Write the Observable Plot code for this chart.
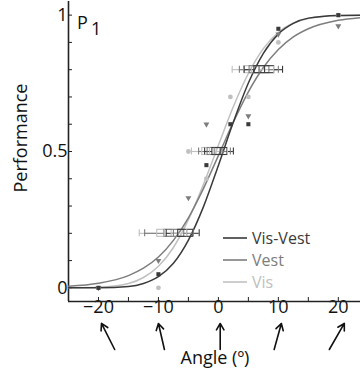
<!DOCTYPE html>
<html><head><meta charset="utf-8">
<script src="https://cdn.jsdelivr.net/npm/d3@7"></script>
<script src="https://cdn.jsdelivr.net/npm/@observablehq/plot@0.6"></script>
<style>body{margin:0;background:#fff} svg{display:block}</style>
</head><body><div id="chart"></div>
<script>
// Series
const series = ["Vis-Vest", "Vest", "Vis"];
const seriesColors = ["#3a3a3a", "#7d7d7d", "#c0c0c0"];

// Fitted curves
const curveAngles   = [-25, -20, -15, -12.5, -10, -7.5, -5, -2.5, 0, 2.5, 5, 7.5, 10, 12.5, 15, 20, 23.7];
const curveVisVest  = [0.000, 0.0004, 0.005, 0.016, 0.041, 0.090, 0.175, 0.297, 0.449, 0.608, 0.751, 0.860, 0.931, 0.970, 0.989, 0.999, 1.000];
const curveVest     = [0.006, 0.017, 0.045, 0.072, 0.113, 0.174, 0.257, 0.364, 0.485, 0.608, 0.719, 0.808, 0.874, 0.920, 0.950, 0.981, 0.991];
const curveVis      = [0.000, 0.002, 0.016, 0.038, 0.079, 0.148, 0.250, 0.379, 0.523, 0.665, 0.786, 0.877, 0.937, 0.971, 0.988, 0.999, 1.000];

// Observed points
const visVestAngles = [-20, -10, -2, 2, 5, 10, 20];
const visVestPerf   = [0.0, 0.05, 0.45, 0.60, 0.60, 0.95, 1.0];
const vestAngles    = [-20, -10, -5, -2, 5, 10, 20];
const vestPerf      = [0.0, 0.10, 0.33, 0.60, 0.63, 0.93, 0.96];
const visAngles     = [-20, -10, -5, -2, 2, 5, 10, 20];
const visPerf       = [0.0, 0.0, 0.50, 0.40, 0.70, 0.70, 0.90, 1.0];

// Threshold boxplots at three performance levels
const boxLevels   = [0.2, 0.5, 0.8];
const visLo  = [-13.2, -4.5, 2.3],  visQ1  = [-10.2, -2.7, 4.3], visMed  = [-9.0, -1.5, 5.5], visQ3  = [-7.8, -0.3, 6.8], visHi  = [-5.3, 1.5, 9.2];
const vestLo = [-12.3, -3.3, 3.5],  vestQ1 = [-9.0, -1.8, 5.2],  vestMed = [-7.5, -0.7, 6.8], vestQ3 = [-5.7, 0.7, 8.5], vestHi = [-4.2, 2.0, 10.0];
const vvLo   = [-8.7, -2.3, 4.3],   vvQ1   = [-6.7, -1.0, 6.0],  vvMed   = [-5.3, 0.3, 7.7],  vvQ3   = [-4.2, 1.5, 9.3],  vvHi   = [-3.2, 2.5, 10.7];

// Axis ticks
const xTicks = [-25, -20, -15, -10, -5, 0, 5, 10, 15, 20];
const xLabels = [-20, -10, 0, 10, 20];
const yTicks = [0, 0.1, 0.2, 0.3, 0.4, 0.5, 0.6, 0.7, 0.8, 0.9, 1];
const yLabels = [0, 0.5, 1];

// Arrows under the angle labels (tip / tail in angle units)
const arrowTipX  = [-19.5, -10, 0.3, 10.5, 21];
const arrowTailX = [-17.3, -9, 0.3, 9.3, 18.5];

const curves = [
  ...curveAngles.map((a, i) => ({series: "Vis", angle: a, perf: curveVis[i]})),
  ...curveAngles.map((a, i) => ({series: "Vest", angle: a, perf: curveVest[i]})),
  ...curveAngles.map((a, i) => ({series: "Vis-Vest", angle: a, perf: curveVisVest[i]}))
];
const boxes = [
  ...boxLevels.map((l, i) => ({series: "Vis", level: l, lo: visLo[i], q1: visQ1[i], med: visMed[i], q3: visQ3[i], hi: visHi[i]})),
  ...boxLevels.map((l, i) => ({series: "Vest", level: l, lo: vestLo[i], q1: vestQ1[i], med: vestMed[i], q3: vestQ3[i], hi: vestHi[i]})),
  ...boxLevels.map((l, i) => ({series: "Vis-Vest", level: l, lo: vvLo[i], q1: vvQ1[i], med: vvMed[i], q3: vvQ3[i], hi: vvHi[i]}))
];
const colorOf = s => seriesColors[series.indexOf(s)];
const visPts = visAngles.map((a, i) => ({angle: a, perf: visPerf[i]}));
const vestPts = vestAngles.map((a, i) => ({angle: a, perf: vestPerf[i]}));
const vvPts = visVestAngles.map((a, i) => ({angle: a, perf: visVestPerf[i]}));
const arrows = arrowTipX.map((t, i) => ({x1: arrowTailX[i], x2: t}));

const font = "'Open Sans', sans-serif";
const chart = Plot.plot({
  width: 360, height: 373,
  marginLeft: 68, marginRight: 0, marginTop: 1, marginBottom: 72,
  style: {fontFamily: font, background: "#fff", overflow: "visible"},
  x: {domain: [-25, 23.7]},
  y: {domain: [-0.05, 1.05]},
  marks: [
    Plot.axisX({ticks: xTicks, tickSize: -4, tickPadding: 3, fontSize: 18, stroke: "#222", color: "#111",
      tickFormat: d => xLabels.includes(d) ? (d < 0 ? "\u2212" + Math.abs(d) : String(d)) : ""}),
    Plot.axisY({ticks: yTicks, tickSize: -4, tickPadding: 5, fontSize: 18, stroke: "#222", color: "#111", label: null,
      tickFormat: d => yLabels.some(v => Math.abs(v - d) < 1e-9) ? String(d) : ""}),
    Plot.ruleX([-25], {stroke: "#222", strokeWidth: 1.6}),
    Plot.ruleY([-0.05], {stroke: "#222", strokeWidth: 1.6}),
    Plot.line(curves, {x: "angle", y: "perf", z: "series", stroke: d => colorOf(d.series), strokeWidth: 1.5, curve: "monotone-x"}),
    // boxplots
    Plot.ruleY(boxes, {x1: "lo", x2: "q1", y: "level", stroke: d => colorOf(d.series), strokeWidth: 1.1}),
    Plot.ruleY(boxes, {x1: "q3", x2: "hi", y: "level", stroke: d => colorOf(d.series), strokeWidth: 1.1}),
    Plot.rect(boxes, {x1: "q1", x2: "q3", y1: "level", y2: "level", insetTop: -3.5, insetBottom: -3.5, fill: "none", stroke: d => colorOf(d.series), strokeWidth: 1.1}),
    Plot.ruleX(boxes, {x: "med", y1: "level", y2: "level", insetTop: -3.5, insetBottom: -3.5, stroke: d => colorOf(d.series), strokeWidth: 1.1}),
    Plot.ruleX(boxes, {x: "lo", y1: "level", y2: "level", insetTop: -3.5, insetBottom: -3.5, stroke: d => colorOf(d.series), strokeWidth: 1.1}),
    Plot.ruleX(boxes, {x: "hi", y1: "level", y2: "level", insetTop: -3.5, insetBottom: -3.5, stroke: d => colorOf(d.series), strokeWidth: 1.1}),
    // points
    Plot.dot(visPts, {x: "angle", y: "perf", r: 2.4, fill: seriesColors[2], symbol: "circle"}),
    Plot.dot(vestPts, {x: "angle", y: "perf", r: 2.2, fill: seriesColors[1], symbol: "triangle", rotate: 180}),
    Plot.dot(vvPts, {x: "angle", y: "perf", r: 2.3, fill: seriesColors[0], symbol: "square"}),
    // arrows
    Plot.arrow(arrows, {x1: "x1", x2: "x2", y1: -0.226, y2: -0.1305, stroke: "#111", strokeWidth: 1.6, headLength: 7, clip: false})
  ]
});

// Labels and legend
const svg = d3.select(chart);
const tg = svg.append("g").attr("font-family", font).attr("fill", "#111");
tg.append("text").attr("transform", "translate(21,138) rotate(-90)").attr("text-anchor", "middle")
  .attr("dy", "0.35em").attr("font-size", 18).text("Performance");
tg.append("text").attr("x", 215).attr("y", 358).attr("text-anchor", "middle")
  .attr("dy", "0.35em").attr("font-size", 18).text("Angle (\u00ba)");
tg.append("text").attr("x", 77).attr("y", 29).attr("text-anchor", "start").attr("font-size", 18).text("P");
tg.append("text").attr("x", 91).attr("y", 35).attr("text-anchor", "start").attr("font-size", 18).text("1");

const lg = svg.append("g").attr("font-family", font).attr("font-size", 16);
series.forEach((s, i) => {
  const y = 238 + i * 22;
  lg.append("line").attr("x1", 223).attr("x2", 247).attr("y1", y).attr("y2", y)
    .attr("stroke", seriesColors[i]).attr("stroke-width", 1.6);
  lg.append("text").attr("x", 252).attr("y", y).attr("dy", "0.35em").attr("text-anchor", "start")
    .attr("fill", seriesColors[i]).text(s);
});
document.getElementById("chart").appendChild(chart);
</script>
</body></html>
